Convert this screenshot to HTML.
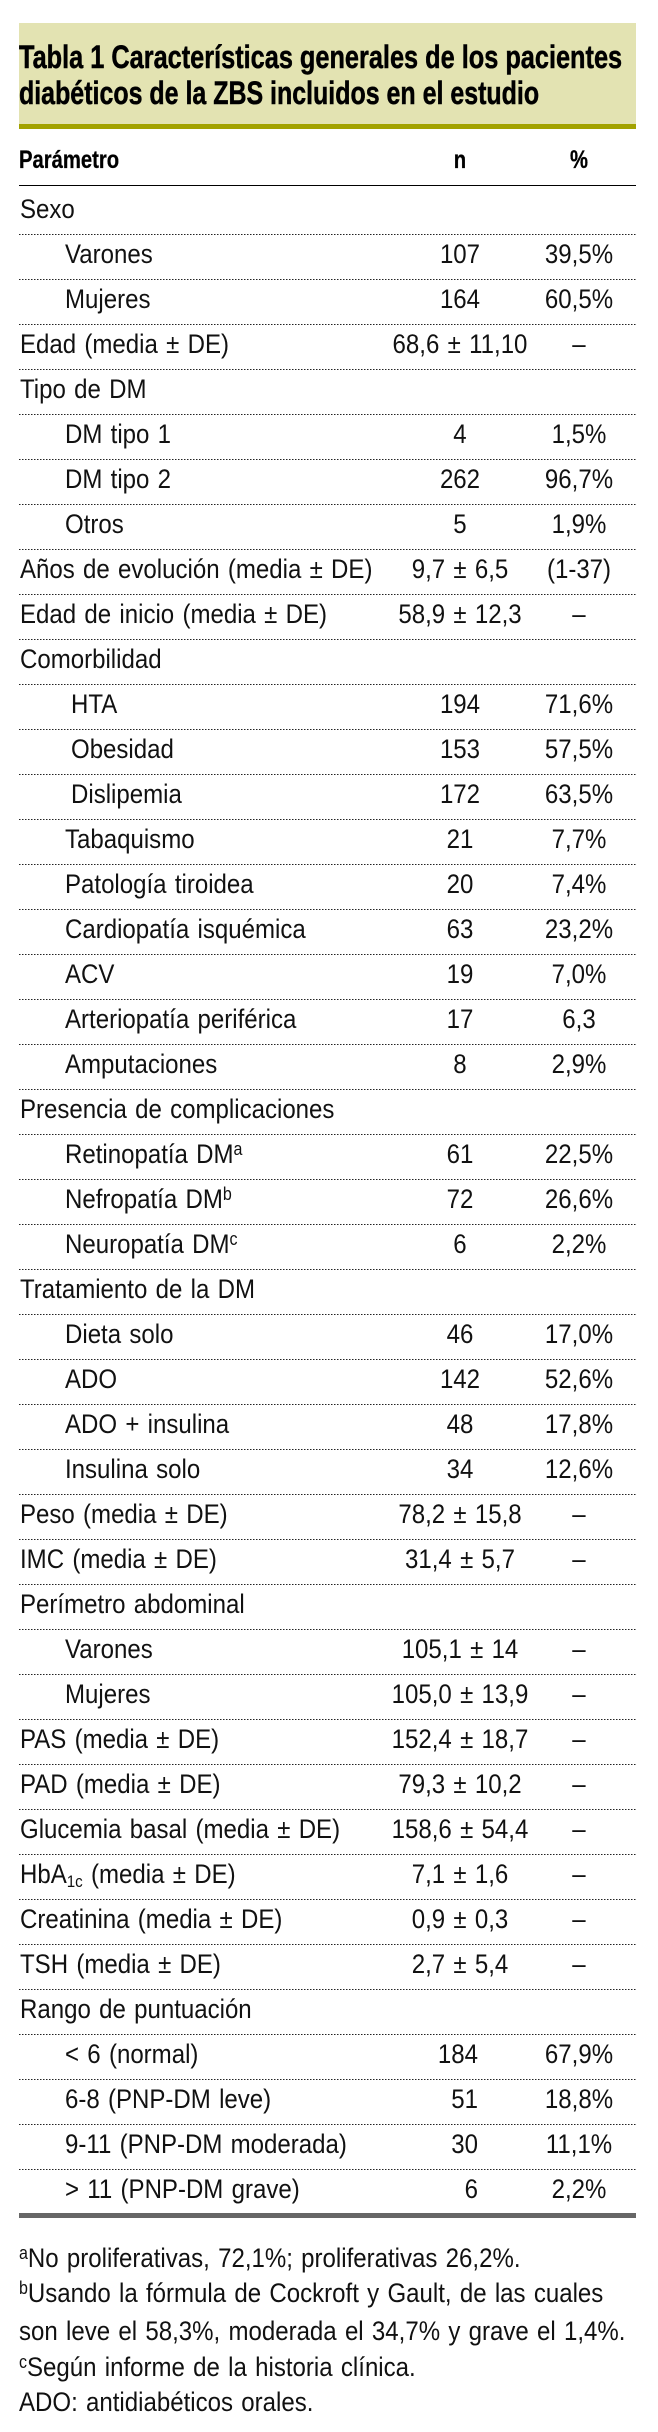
<!DOCTYPE html>
<html lang="es">
<head>
<meta charset="utf-8">
<title>Tabla 1</title>
<style>
html,body{margin:0;padding:0;background:#fff}
#page{position:relative;width:658px;height:2432px;overflow:hidden;font-family:"Liberation Sans",sans-serif;color:#111}
.abs{position:absolute}
#band{left:19px;top:23px;width:617px;height:101px;background:#e3e3b2}
#rule{left:19px;top:124px;width:617px;height:5px;background:#a2a200}
.title{left:19px;font-weight:bold;font-size:32px;line-height:36px;white-space:nowrap;transform-origin:left center;color:#000;-webkit-text-stroke:.5px #000}
.hd{top:145px;font-weight:bold;font-size:25px;line-height:30px;white-space:nowrap;color:#000;-webkit-text-stroke:.3px #000}
#h1{left:19px;transform-origin:left center;transform:scaleX(.81)}
#h2{left:360px;width:200px;text-align:center;transform:scaleX(.81)}
#h3{left:479px;width:200px;text-align:center;transform:scaleX(.81)}
#black{left:19px;top:184.5px;width:617px;height:1.5px;background:#000}
.row{position:relative;height:45px;width:617px;left:19px;background:repeating-linear-gradient(90deg,#222 0 1.5px,transparent 1.5px 3px) left bottom/100% 1px no-repeat}
#rows{left:0;top:190px;width:658px}
.row span{position:absolute;top:0;font-size:27px;line-height:39px;white-space:nowrap;word-spacing:1.8px}
.l{left:1px;transform-origin:left center;transform:scaleX(.89)}
.l.i{left:46px}
.l.j{left:52px}
.n{left:341px;width:200px;text-align:center;transform:scaleX(.89)}
.n.r{left:259px;text-align:right;transform-origin:right center}
.p{left:460px;width:200px;text-align:center;transform:scaleX(.89)}
sup{font-size:18px;line-height:0;vertical-align:8px}
sub{font-size:17px;line-height:0;vertical-align:-4px}
#bar{left:19px;top:2213px;width:617px;height:5px;background:#666}
.fn{left:19px;font-size:27px;line-height:36px;white-space:nowrap;word-spacing:1.8px;transform-origin:left center;transform:scaleX(.89)}
</style>
</head>
<body>
<div id="page">
<div id="band" class="abs"></div>
<div id="rule" class="abs"></div>
<div class="abs title" style="top:39px;transform:scaleX(.791)">Tabla 1 Características generales de los pacientes</div>
<div class="abs title" style="top:75px;transform:scaleX(.78)">diabéticos de la ZBS incluidos en el estudio</div>
<div id="h1" class="abs hd">Parámetro</div>
<div id="h2" class="abs hd">n</div>
<div id="h3" class="abs hd">%</div>
<div id="black" class="abs"></div>
<div id="rows" class="abs">
<div class="row"><span class="l">Sexo</span></div>
<div class="row"><span class="l i">Varones</span><span class="n">107</span><span class="p">39,5%</span></div>
<div class="row"><span class="l i">Mujeres</span><span class="n">164</span><span class="p">60,5%</span></div>
<div class="row"><span class="l">Edad (media ± DE)</span><span class="n">68,6 ± 11,10</span><span class="p">–</span></div>
<div class="row"><span class="l">Tipo de DM</span></div>
<div class="row"><span class="l i">DM tipo 1</span><span class="n">4</span><span class="p">1,5%</span></div>
<div class="row"><span class="l i">DM tipo 2</span><span class="n">262</span><span class="p">96,7%</span></div>
<div class="row"><span class="l i">Otros</span><span class="n">5</span><span class="p">1,9%</span></div>
<div class="row"><span class="l">Años de evolución (media ± DE)</span><span class="n">9,7 ± 6,5</span><span class="p">(1-37)</span></div>
<div class="row"><span class="l">Edad de inicio (media ± DE)</span><span class="n">58,9 ± 12,3</span><span class="p">–</span></div>
<div class="row"><span class="l">Comorbilidad</span></div>
<div class="row"><span class="l j">HTA</span><span class="n">194</span><span class="p">71,6%</span></div>
<div class="row"><span class="l j">Obesidad</span><span class="n">153</span><span class="p">57,5%</span></div>
<div class="row"><span class="l j">Dislipemia</span><span class="n">172</span><span class="p">63,5%</span></div>
<div class="row"><span class="l i">Tabaquismo</span><span class="n">21</span><span class="p">7,7%</span></div>
<div class="row"><span class="l i">Patología tiroidea</span><span class="n">20</span><span class="p">7,4%</span></div>
<div class="row"><span class="l i">Cardiopatía isquémica</span><span class="n">63</span><span class="p">23,2%</span></div>
<div class="row"><span class="l i">ACV</span><span class="n">19</span><span class="p">7,0%</span></div>
<div class="row"><span class="l i">Arteriopatía periférica</span><span class="n">17</span><span class="p">6,3</span></div>
<div class="row"><span class="l i">Amputaciones</span><span class="n">8</span><span class="p">2,9%</span></div>
<div class="row"><span class="l">Presencia de complicaciones</span></div>
<div class="row"><span class="l i">Retinopatía DM<sup>a</sup></span><span class="n">61</span><span class="p">22,5%</span></div>
<div class="row"><span class="l i">Nefropatía DM<sup>b</sup></span><span class="n">72</span><span class="p">26,6%</span></div>
<div class="row"><span class="l i">Neuropatía DM<sup>c</sup></span><span class="n">6</span><span class="p">2,2%</span></div>
<div class="row"><span class="l">Tratamiento de la DM</span></div>
<div class="row"><span class="l i">Dieta solo</span><span class="n">46</span><span class="p">17,0%</span></div>
<div class="row"><span class="l i">ADO</span><span class="n">142</span><span class="p">52,6%</span></div>
<div class="row"><span class="l i">ADO + insulina</span><span class="n">48</span><span class="p">17,8%</span></div>
<div class="row"><span class="l i">Insulina solo</span><span class="n">34</span><span class="p">12,6%</span></div>
<div class="row"><span class="l">Peso (media ± DE)</span><span class="n">78,2 ± 15,8</span><span class="p">–</span></div>
<div class="row"><span class="l">IMC (media ± DE)</span><span class="n">31,4 ± 5,7</span><span class="p">–</span></div>
<div class="row"><span class="l">Perímetro abdominal</span></div>
<div class="row"><span class="l i">Varones</span><span class="n">105,1 ± 14</span><span class="p">–</span></div>
<div class="row"><span class="l i">Mujeres</span><span class="n">105,0 ± 13,9</span><span class="p">–</span></div>
<div class="row"><span class="l">PAS (media ± DE)</span><span class="n">152,4 ± 18,7</span><span class="p">–</span></div>
<div class="row"><span class="l">PAD (media ± DE)</span><span class="n">79,3 ± 10,2</span><span class="p">–</span></div>
<div class="row"><span class="l">Glucemia basal (media ± DE)</span><span class="n">158,6 ± 54,4</span><span class="p">–</span></div>
<div class="row"><span class="l">HbA<sub>1c</sub> (media ± DE)</span><span class="n">7,1 ± 1,6</span><span class="p">–</span></div>
<div class="row"><span class="l">Creatinina (media ± DE)</span><span class="n">0,9 ± 0,3</span><span class="p">–</span></div>
<div class="row"><span class="l">TSH (media ± DE)</span><span class="n">2,7 ± 5,4</span><span class="p">–</span></div>
<div class="row"><span class="l">Rango de puntuación</span></div>
<div class="row"><span class="l i">&lt; 6 (normal)</span><span class="n r">184</span><span class="p">67,9%</span></div>
<div class="row"><span class="l i">6-8 (PNP-DM leve)</span><span class="n r">51</span><span class="p">18,8%</span></div>
<div class="row"><span class="l i">9-11 (PNP-DM moderada)</span><span class="n r">30</span><span class="p">11,1%</span></div>
<div class="row" style="background:none"><span class="l i">&gt; 11 (PNP-DM grave)</span><span class="n r">6</span><span class="p">2,2%</span></div>
</div>
<div id="bar" class="abs"></div>
<div class="abs fn" style="top:2240px"><sup>a</sup>No proliferativas, 72,1%; proliferativas 26,2%.</div>
<div class="abs fn" style="top:2275px"><sup>b</sup>Usando la fórmula de Cockroft y Gault, de las cuales</div>
<div class="abs fn" style="top:2313px">son leve el 58,3%, moderada el 34,7% y grave el 1,4%.</div>
<div class="abs fn" style="top:2349px"><sup>c</sup>Según informe de la historia clínica.</div>
<div class="abs fn" style="top:2384px">ADO: antidiabéticos orales.</div>
</div>
</body>
</html>
